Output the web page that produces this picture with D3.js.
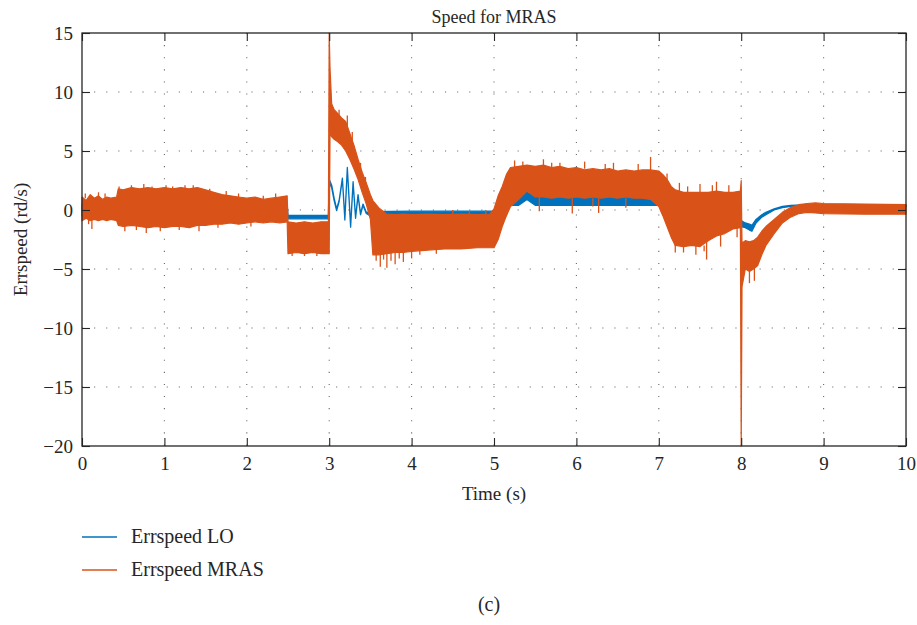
<!DOCTYPE html>
<html>
<head>
<meta charset="utf-8">
<script src="https://cdn.jsdelivr.net/npm/d3@7"></script>
<style>
  body { margin: 0; background: #fff; }
  svg text { font-family: "Liberation Serif", "DejaVu Serif", serif; fill: #262626; }
  .axis path { display: none; }
  .axis line { stroke: #262626; stroke-width: 1.1; }
</style>
</head>
<body>
<div id="chart"></div>
<script>
// axis ticks
var xTicks = [0, 1, 2, 3, 4, 5, 6, 7, 8, 9, 10];
var yTicks = [-20, -15, -10, -5, 0, 5, 10, 15];

// Errspeed MRAS, read as upper / lower edge of the noisy band
var mrasTime = [0, 0.05, 0.1, 0.15, 0.2, 0.25, 0.3, 0.35, 0.42, 0.44, 0.5, 0.6, 0.7, 0.8, 0.9, 1.0, 1.1, 1.2, 1.3, 1.4, 1.5,
  1.6, 1.7, 1.8, 1.9, 2.0, 2.1, 2.2, 2.3, 2.4, 2.49, 2.5, 2.6, 2.7, 2.8, 2.9, 2.99,
  3.0, 3.01, 3.03, 3.06, 3.1, 3.15, 3.2, 3.25, 3.3, 3.35, 3.4, 3.45, 3.5, 3.53, 3.6, 3.7, 3.8, 3.9, 4.0, 4.2, 4.4, 4.6, 4.8, 4.95,
  5.0, 5.05, 5.1, 5.15, 5.2, 5.3, 5.4, 5.5, 5.6, 5.7, 5.8, 5.9, 6.0, 6.1, 6.2, 6.3, 6.4, 6.5, 6.6, 6.7, 6.8, 6.9, 7.0,
  7.05, 7.1, 7.15, 7.2, 7.3, 7.4, 7.5, 7.6, 7.7, 7.8, 7.9, 7.99,
  8.0, 8.01, 8.05, 8.1, 8.15, 8.2, 8.25, 8.3, 8.4, 8.5, 8.6, 8.7, 8.8, 8.9, 9.0, 9.5, 10.0];
var mrasHigh = [1.1, 0.8, 1.3, 1.0, 1.2, 0.9, 1.1, 1.0, 1.1, 1.8, 1.7, 1.9, 1.8, 1.9, 1.8, 1.9, 1.8, 1.9, 1.8, 1.9, 1.7,
  1.5, 1.3, 1.2, 1.1, 1.0, 1.1, 0.9, 1.0, 1.1, 1.2, -1.0, -1.1, -1.0, -1.1, -1.0, -1.0,
  15.0, 12.0, 9.0, 8.5, 8.2, 7.8, 7.5, 6.5, 5.5, 4.3, 3.2, 2.3, 1.3, 0.8, 0.2, -0.35, -0.4, -0.35, -0.4, -0.35, -0.4, -0.35, -0.4, -0.35,
  0.1, 1.2, 2.0, 3.0, 3.6, 3.7, 3.8, 3.7, 3.8, 3.6, 3.7, 3.5, 3.6, 3.4, 3.5, 3.4, 3.5, 3.3, 3.4, 3.3, 3.4, 3.4, 3.3,
  3.0, 2.6, 2.0, 1.7, 1.5, 1.5, 1.5, 1.5, 1.6, 1.5, 1.5, 1.6,
  2.5, -2.8, -2.6, -2.7, -2.6, -2.3, -1.8, -1.4, -0.8, -0.2, 0.2, 0.45, 0.55, 0.6, 0.55, 0.5, 0.45];
var mrasLow = [-0.9, -0.7, -0.9, -0.8, -0.9, -0.8, -0.9, -0.8, -0.9, -1.3, -1.4, -1.3, -1.4, -1.5, -1.4, -1.5, -1.4, -1.4, -1.5, -1.3, -1.3,
  -1.2, -1.2, -1.1, -1.2, -1.1, -1.0, -1.1, -1.0, -1.1, -1.0, -3.7, -3.6, -3.7, -3.6, -3.7, -3.7,
  -3.7, 6.5, 6.2, 6.0, 5.8, 5.5, 5.0, 4.3, 3.5, 2.6, 1.5, 0.5, -0.8, -3.8, -3.8, -3.7, -3.6, -3.6, -3.5, -3.4, -3.3, -3.3, -3.2, -3.2,
  -3.2, -2.5, -1.4, -0.5, 0.3, 0.9, 1.6, 1.1, 1.1, 1.0, 1.1, 1.0, 1.1, 1.0, 1.1, 1.0, 1.1, 1.0, 1.1, 1.0, 1.0, 0.9, 0.3,
  -0.5, -1.4, -2.3, -3.0, -3.1, -3.0, -3.1, -2.6, -2.2, -2.0, -1.6, -1.5,
  -20.0, -6.5, -5.0, -5.2, -5.0, -4.7, -3.8, -3.0, -2.0, -1.1, -0.6, -0.3, -0.2, -0.25, -0.3, -0.35, -0.35];

// isolated spikes sticking out of the MRAS band: time, from, to
var spikeTime = [0.04, 0.08, 0.12, 0.2, 0.28, 0.45, 0.52, 0.6, 0.66, 0.75, 0.78, 0.85, 0.95, 1.02, 1.1, 1.18, 1.25, 1.35, 1.42, 1.55, 1.65, 1.75, 1.9, 2.05, 2.2, 2.35,
  2.55, 2.7, 2.85, 3.12, 3.22, 3.28, 3.38, 3.44,
  3.57, 3.62, 3.66, 3.7, 3.75, 3.8, 3.85, 3.9, 4.0, 4.1, 4.3, 4.5, 4.7, 4.9,
  5.25, 5.35, 5.55, 5.6, 5.7, 5.8, 5.95, 6.1, 6.2, 6.27, 6.35, 6.45, 6.6, 6.75, 6.9,
  7.1, 7.2, 7.25, 7.3, 7.35, 7.45, 7.5, 7.55, 7.58, 7.65, 7.7, 7.75, 7.85, 7.95, 8.1, 8.16];
var spikeFrom = [1.0, -0.8, -0.8, 1.0, 1.0, 1.5, -1.3, 1.7, -1.3, 1.7, -1.4, 1.7, -1.4, 1.7, 1.7, -1.3, 1.7, 1.7, -1.3, 1.5, -1.1, 1.2, 1.0, -1.0, 0.8, 1.0,
  -3.5, -3.5, -3.5, 7.5, 7.0, 5.5, 3.0, 1.8,
  -3.7, -3.7, -3.6, -3.6, -3.6, -3.6, -3.5, -3.5, -3.4, -3.3, -3.2, -0.4, -0.4, -0.4,
  3.6, 3.6, 1.1, 3.7, 3.5, 3.6, 1.0, 3.5, 1.0, 1.0, 3.4, 3.4, 1.0, 3.3, 3.3,
  2.5, -2.8, 1.5, -3.0, 1.5, -3.0, 1.5, -3.0, -2.6, 1.5, 1.5, -2.1, 1.5, -1.5, -5.0, -4.9];
var spikeTo = [1.4, -1.2, -1.6, 1.5, 1.4, 2.0, -1.8, 2.1, -1.7, 2.2, -1.95, 2.0, -1.8, 2.1, 2.0, -1.7, 2.1, 2.1, -1.8, 1.8, -1.5, 1.6, 1.4, -1.4, 1.2, 1.4,
  -3.9, -3.9, -3.9, 8.5, 8.0, 6.6, 4.0, 2.8,
  -4.3, -4.8, -4.2, -4.9, -4.3, -4.6, -4.1, -4.4, -4.1, -3.8, -3.7, 0.0, -0.1, 0.0,
  4.2, 4.1, -0.1, 4.3, 4.0, 4.0, -0.3, 4.1, 0.3, -0.25, 3.9, 4.0, 0.2, 3.9, 4.5,
  3.1, -3.6, 2.3, -3.6, 2.0, -3.8, 2.2, -3.5, -4.2, 2.1, 2.4, -3.1, 2.1, -2.3, -6.2, -6.0];

// Errspeed LO, upper / lower edge
var loTime = [0, 2.49, 2.5, 2.99, 3.0, 3.03, 3.06, 3.09, 3.12, 3.16, 3.19, 3.22, 3.26, 3.29, 3.32, 3.35, 3.38, 3.41, 3.45, 3.5,
  4.0, 4.5, 5.0, 5.05, 5.15, 5.2, 5.3, 5.4, 5.5, 6.0, 6.5, 7.0, 7.1, 7.5, 7.99,
  8.0, 8.05, 8.1, 8.13, 8.18, 8.25, 8.3, 8.4, 8.5, 8.6, 8.8, 10.0];
var loHigh = [0.5, 0.5, -0.45, -0.45, 2.6, 2.1, 1.0, 0.1, 0.8, 2.7, -0.7, 3.6, -1.3, 2.4, -0.6, 1.3, -0.3, 0.5, -0.2, -0.15,
  -0.1, -0.1, -0.1, 0.3, 0.9, 1.2, 1.2, 1.5, 1.2, 1.2, 1.2, 1.0, 0.6, 0.2, -0.8,
  -0.9, -1.1, -1.2, -1.3, -0.8, -0.4, -0.2, 0.1, 0.3, 0.4, 0.45, 0.4];
var loLow = [-0.5, -0.5, -0.75, -0.75, 2.3, 1.9, 0.8, -0.05, 0.7, 2.6, -0.85, 3.5, -1.45, 2.3, -0.7, 1.2, -0.4, 0.4, -0.3, -0.5,
  -0.6, -0.6, -0.6, -0.2, 0.3, 0.4, 0.4, 0.9, 0.4, 0.4, 0.4, 0.4, 0.1, -0.3, -1.2,
  -1.4, -1.5, -1.7, -1.8, -1.1, -0.6, -0.4, 0.0, 0.2, 0.3, 0.35, 0.3];

var seriesNames = ["Errspeed LO", "Errspeed MRAS"];
var seriesColors = ["#0072BD", "#D95319"];

var svgWidth = 917, svgHeight = 625;
var margin = { top: 33, right: 11, bottom: 179, left: 82 };

var svg = d3.select('#chart').append('svg')
  .attr('width', svgWidth)
  .attr('height', svgHeight);
var width = svgWidth - margin.left - margin.right;
var height = svgHeight - margin.top - margin.bottom;
var g = svg.append('g')
  .attr('transform', 'translate(' + margin.left + ',' + margin.top + ')');

var x = d3.scaleLinear().domain([0, 10]).range([0, width]);
var y = d3.scaleLinear().domain([-20, 15]).range([height, 0]);

// dotted grid
g.append('g').selectAll('line.vg')
  .data(xTicks.slice(1, -1)).enter().append('line')
  .attr('x1', function(d) { return x(d); }).attr('x2', function(d) { return x(d); })
  .attr('y1', 0).attr('y2', height)
  .attr('stroke', '#666').attr('stroke-width', 1.1)
  .attr('stroke-dasharray', '1.1,11');
g.append('g').selectAll('line.hg')
  .data(yTicks.slice(1, -1)).enter().append('line')
  .attr('x1', 0).attr('x2', width)
  .attr('y1', function(d) { return y(d); }).attr('y2', function(d) { return y(d); })
  .attr('stroke', '#666').attr('stroke-width', 1.1)
  .attr('stroke-dasharray', '1.1,11');

// series bands
function band(time, hi, lo) {
  return d3.area()
    .x(function(d, i) { return x(time[i]); })
    .y0(function(d, i) { return y(lo[i]); })
    .y1(function(d, i) { return y(hi[i]); })(time);
}

g.append('path')
  .attr('d', band(loTime, loHigh, loLow))
  .attr('fill', seriesColors[0])
  .attr('stroke', seriesColors[0])
  .attr('stroke-width', 1.3)
  .attr('stroke-linejoin', 'round');

g.append('path')
  .attr('d', band(mrasTime, mrasHigh, mrasLow))
  .attr('fill', seriesColors[1])
  .attr('stroke', seriesColors[1])
  .attr('stroke-width', 1.2)
  .attr('stroke-linejoin', 'round');

g.append('g').selectAll('line')
  .data(spikeTime).enter().append('line')
  .attr('x1', function(d) { return x(d); })
  .attr('x2', function(d) { return x(d); })
  .attr('y1', function(d, i) { return y(spikeFrom[i]); })
  .attr('y2', function(d, i) { return y(spikeTo[i]); })
  .attr('stroke', seriesColors[1])
  .attr('stroke-width', 1.3);

// axes, ticks pointing inward on all four sides
var fmt = d3.format('d');
g.append('g').attr('class', 'axis')
  .attr('transform', 'translate(0,' + height + ')')
  .call(d3.axisBottom(x).tickValues(xTicks).tickFormat(fmt).tickSizeInner(-8).tickSizeOuter(0).tickPadding(11))
  .selectAll('text').attr('font-size', 19);
g.append('g').attr('class', 'axis')
  .call(d3.axisTop(x).tickValues(xTicks).tickFormat('').tickSizeInner(-8).tickSizeOuter(0));
g.append('g').attr('class', 'axis')
  .call(d3.axisLeft(y).tickValues(yTicks).tickFormat(fmt).tickSizeInner(-8).tickSizeOuter(0).tickPadding(9))
  .selectAll('text').attr('font-size', 19);
g.append('g').attr('class', 'axis')
  .attr('transform', 'translate(' + width + ',0)')
  .call(d3.axisRight(y).tickValues(yTicks).tickFormat('').tickSizeInner(-8).tickSizeOuter(0));

g.append('rect')
  .attr('width', width).attr('height', height)
  .attr('fill', 'none').attr('stroke', '#262626').attr('stroke-width', 1.3);

// labels
g.append('text')
  .attr('x', width / 2).attr('y', -10)
  .attr('text-anchor', 'middle').attr('font-size', 18)
  .text('Speed for MRAS');
g.append('text')
  .attr('x', width / 2).attr('y', height + 54)
  .attr('text-anchor', 'middle').attr('font-size', 19)
  .text('Time (s)');
g.append('text')
  .attr('transform', 'translate(-55,' + (height / 2) + ') rotate(-90)')
  .attr('text-anchor', 'middle').attr('font-size', 19)
  .text('Errspeed (rd/s)');

// legend
var legend = svg.append('g').attr('transform', 'translate(82,537)');
seriesNames.forEach(function(name, i) {
  legend.append('line')
    .attr('x1', 0).attr('x2', 35)
    .attr('y1', i * 33).attr('y2', i * 33)
    .attr('stroke', seriesColors[i]).attr('stroke-width', 1.5);
  legend.append('text')
    .attr('x', 49).attr('y', i * 33 + 6)
    .attr('font-size', 20)
    .text(name);
});

svg.append('text')
  .attr('x', 489).attr('y', 611)
  .attr('text-anchor', 'middle').attr('font-size', 20)
  .text('(c)');
</script>
</body>
</html>
